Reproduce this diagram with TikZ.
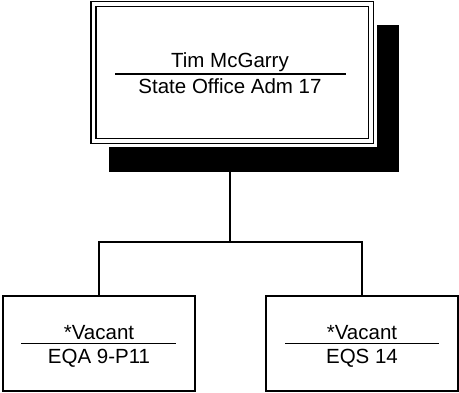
\documentclass[tikz,border=0pt]{standalone}
\usepackage{fontspec}
\setmainfont{Liberation Sans}
\usetikzlibrary{positioning}

\begin{document}
\begin{tikzpicture}[x=1pt,y=1pt,
		box/.style={draw,line width=1.5pt,fill=white,inner sep=0pt},
		txt/.style={anchor=base,inner sep=0pt,font=\fontsize{20.5}{24}\selectfont},
		link/.style={line width=1.5pt}]
		\useasboundingbox (0,0) rectangle (459,-392);

		% Manager box with its shadow
		\node[fill=black,inner sep=0pt,minimum width=290pt,minimum height=147pt] (mgr_shadow) at (254,-98.5) {};
		\node[box,double=white,double distance=3.5pt,preaction={draw=white,line width=11pt},
			minimum width=277.5pt,minimum height=137pt] (mgr) at (232.4,-72.5) {};

		\node[txt] (mgr_name)  at (230,-67.5) {Tim McGarry};
		\draw[link] (115,-74) -- (346,-74);
		\node[txt] (mgr_title) at (230,-93.3) {State Office Adm 17};

		% Vacant positions
		\node[box,minimum width=192pt,minimum height=95pt] (eqa) at (99,-343.5) {};
		\node[box,minimum width=192pt,minimum height=95pt] (eqs) at (362,-343.5) {};

		\node[txt] (eqa_name)  at (99,-339) {*Vacant};
		\draw[link] (21,-343.3) -- (176,-343.3);
		\node[txt] (eqa_title) at (99,-363.3) {EQA 9-P11};

		\node[txt] (eqs_name)  at (362,-339) {*Vacant};
		\draw[link] (285,-343.3) -- (439,-343.3);
		\node[txt] (eqs_title) at (362,-363.3) {EQS 14};

		% Connectors
		\coordinate (branch) at (230,-242);
		\draw[link] (branch) -- (branch |- mgr_shadow.south);
		\draw[link] (eqa.north) |- (branch) -| (eqs.north);
	\end{tikzpicture}
\end{document}
